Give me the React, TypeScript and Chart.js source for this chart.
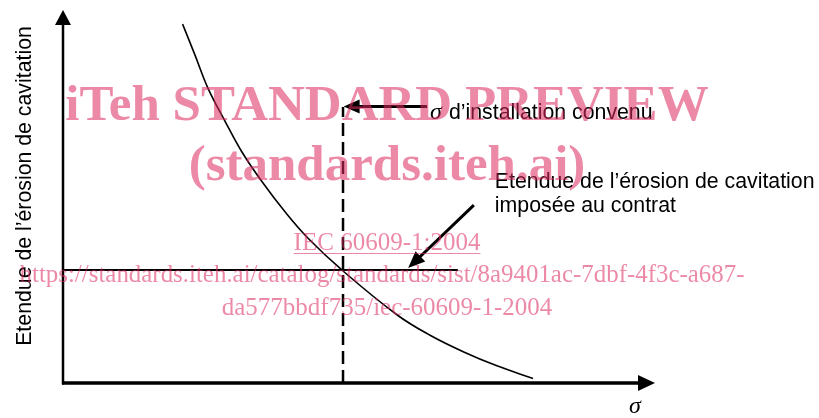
import React, { useEffect, useRef } from "react";
import { Chart, registerables } from "chart.js";

Chart.register(...registerables);

// Curve: cavitation erosion extent vs sigma (arbitrary units)
const curveSigma = [2.02, 2.23, 2.45, 2.74, 3.02, 3.36, 3.75, 4.14, 4.71, 5.64, 6.2, 6.76, 7.33, 7.94];
const curveErosion = [9.62, 8.79, 7.9, 7.01, 6.2, 5.4, 4.59, 3.88, 3.03, 1.83, 1.28, 0.84, 0.46, 0.12];

// Reference lines
const sigmaInstallation = 4.73; // dashed vertical
const sigmaLineTop = 7.4;
const erosionContract = 3.03; // horizontal line
const erosionLineEnd = 6.67;

// Annotation arrows [fromX, fromY, toX, toY] in data units
const arrowSigma = [6.15, 7.41, 4.74, 7.41];
const arrowErosion = [6.94, 4.77, 5.83, 3.08];

// Texts
const yTitle = "Etendue de l\u2019\u00e9rosion de cavitation";
const xTitle = "\u03c3";
const labelSigmaRest = "d\u2019installation convenu";
const labelErosion = ["Etendue de l\u2019\u00e9rosion de cavitation", "impos\u00e9e au contrat"];
const watermarkLines = [
  "iTeh STANDARD PREVIEW",
  "(standards.iteh.ai)",
  "IEC 60609-1:2004",
  "https://standards.iteh.ai/catalog/standards/sist/8a9401ac-7dbf-4f3c-a687-",
  "da577bbdf735/iec-60609-1-2004",
];

const SANS = "'Liberation Sans', Arial, sans-serif";
const SERIF = "'Liberation Serif', 'Times New Roman', serif";

function arrow(ctx: CanvasRenderingContext2D, x1: number, y1: number, x2: number, y2: number, lw: number, len: number, half: number) {
  const ang = Math.atan2(y2 - y1, x2 - x1);
  const bx = x2 - Math.cos(ang) * len;
  const by = y2 - Math.sin(ang) * len;
  ctx.save();
  ctx.strokeStyle = "#000";
  ctx.fillStyle = "#000";
  ctx.lineWidth = lw;
  ctx.lineCap = "butt";
  ctx.beginPath();
  ctx.moveTo(x1, y1);
  ctx.lineTo(bx + Math.cos(ang) * 2, by + Math.sin(ang) * 2);
  ctx.stroke();
  ctx.beginPath();
  ctx.moveTo(x2, y2);
  ctx.lineTo(bx - Math.sin(ang) * half, by + Math.cos(ang) * half);
  ctx.lineTo(bx + Math.sin(ang) * half, by - Math.cos(ang) * half);
  ctx.closePath();
  ctx.fill();
  ctx.restore();
}

const decorPlugin = {
  id: "decor",
  afterDatasetsDraw(chart: any) {
    const ctx: CanvasRenderingContext2D = chart.ctx;
    const xs = chart.scales.x;
    const ys = chart.scales.y;
    const X = (v: number) => xs.getPixelForValue(v);
    const Y = (v: number) => ys.getPixelForValue(v);
    const x0 = X(0), y0 = Y(0);

    // axes with arrow heads
    arrow(ctx, x0, y0 + 1.5, x0, Y(10), 2.5, 15, 8);
    arrow(ctx, x0 - 1, y0, X(10), y0, 3.5, 17, 8);

    // annotation arrows
    arrow(ctx, X(arrowSigma[0]), Y(arrowSigma[1]), X(arrowSigma[2]), Y(arrowSigma[3]), 3, 16, 7);
    arrow(ctx, X(arrowErosion[0]), Y(arrowErosion[1]), X(arrowErosion[2]), Y(arrowErosion[3]), 3, 17, 7);

    ctx.save();
    ctx.fillStyle = "#000";
    ctx.textBaseline = "alphabetic";

    // sigma annotation
    const sx = X(arrowSigma[0]) + 3;
    const sy = Y(arrowSigma[1]) + 12;
    ctx.font = `italic 24px ${SERIF}`;
    ctx.textAlign = "left";
    ctx.fillText(xTitle, sx, sy);
    const sw = ctx.measureText(xTitle).width;
    ctx.font = `21.3px ${SANS}`;
    ctx.fillText(labelSigmaRest, sx + sw + 7, sy);

    // erosion annotation
    const ex = X(arrowErosion[0]) + 21;
    const ey = Y(arrowErosion[1]) - 17;
    labelErosion.forEach((t, i) => ctx.fillText(t, ex, ey + i * 24));

    // x title
    ctx.font = `italic 24px ${SERIF}`;
    ctx.textAlign = "center";
    ctx.fillText(xTitle, X(10) - 20, y0 + 30);

    // y title
    ctx.font = `21.3px ${SANS}`;
    ctx.translate(31, 186);
    ctx.rotate(-Math.PI / 2);
    ctx.textAlign = "center";
    ctx.fillText(yTitle, 0, 0);
    ctx.restore();
  },
  afterDraw(chart: any) {
    const ctx: CanvasRenderingContext2D = chart.ctx;
    const cx = 387;
    ctx.save();
    ctx.fillStyle = "rgba(220, 40, 95, 0.55)";
    ctx.strokeStyle = "rgba(220, 40, 95, 0.55)";
    ctx.textAlign = "center";
    ctx.textBaseline = "alphabetic";
    ctx.font = `bold 51px ${SERIF}`;
    ctx.fillText(watermarkLines[0], cx, 120);
    ctx.fillText(watermarkLines[1], cx, 180);
    ctx.font = `25px ${SERIF}`;
    ctx.fillText(watermarkLines[2], cx, 250);
    const w = ctx.measureText(watermarkLines[2]).width;
    ctx.lineWidth = 1.2;
    ctx.beginPath();
    ctx.moveTo(cx - w / 2, 253.5);
    ctx.lineTo(cx + w / 2, 253.5);
    ctx.stroke();
    ctx.fillText(watermarkLines[3], 382, 282, 725);
    ctx.fillText(watermarkLines[4], cx, 315);
    ctx.restore();
  },
};

export default function App() {
  const ref = useRef<HTMLCanvasElement | null>(null);
  useEffect(() => {
    if (!ref.current) return;
    const chart = new Chart(ref.current, {
      type: "scatter",
      data: {
        datasets: [
          {
            label: "curve",
            data: curveSigma.map((s, i) => ({ x: s, y: curveErosion[i] })),
            showLine: true,
            borderColor: "#000",
            borderWidth: 1.6,
            pointRadius: 0,
            tension: 0.4,
          },
          {
            label: "contract",
            data: [
              { x: 0, y: erosionContract },
              { x: erosionLineEnd, y: erosionContract },
            ],
            showLine: true,
            borderColor: "#000",
            borderWidth: 2,
            pointRadius: 0,
          },
          {
            label: "installation",
            data: [
              { x: sigmaInstallation, y: 0 },
              { x: sigmaInstallation, y: sigmaLineTop },
            ],
            showLine: true,
            borderColor: "#000",
            borderWidth: 2.5,
            borderDash: [13, 6],
            pointRadius: 0,
          },
        ],
      },
      options: {
        animation: false,
        responsive: true,
        maintainAspectRatio: false,
        layout: { padding: { left: 63, right: 164, top: 10, bottom: 35 } },
        plugins: { legend: { display: false }, tooltip: { enabled: false } },
        scales: {
          x: { type: "linear", min: 0, max: 10, display: false },
          y: { type: "linear", min: 0, max: 10, display: false },
        },
      },
      plugins: [decorPlugin],
    });
    return () => chart.destroy();
  }, []);
  return (
    <div style={{ position: "fixed", left: 0, top: 0, width: 819, height: 418, background: "#fff" }}>
      <canvas ref={ref} />
    </div>
  );
}
